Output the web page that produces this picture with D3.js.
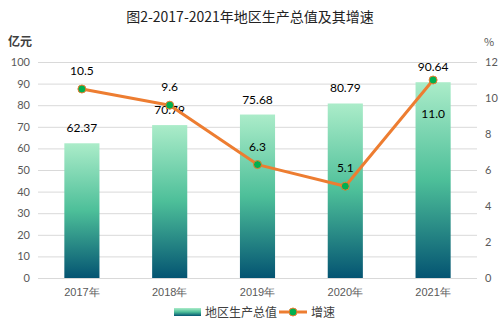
<!DOCTYPE html>
<html><head><meta charset="utf-8">
<script src="https://cdn.jsdelivr.net/npm/d3@7"></script>
<style>body{margin:0;background:#fff;}svg{display:block;font-family:"Noto Sans CJK SC","Microsoft YaHei",sans-serif;}</style>
</head><body><svg id="c" width="500" height="326"></svg>
<script>
const categories = ["2017年","2018年","2019年","2020年","2021年"];
const gdpValues = [62.37, 70.79, 75.68, 80.79, 90.64];
const growthValues = [10.5, 9.6, 6.3, 5.1, 11.0];
const growthLabels = ["10.5","9.6","6.3","5.1","11.0"];
const leftTicks = [0,10,20,30,40,50,60,70,80,90,100];
const rightTicks = [0,2,4,6,8,10,12];

const svg = d3.select("#c");
const m = {l:38, r:477, t:62, b:278};
const x = d3.scaleBand().domain(categories).range([m.l, m.r]).paddingInner(0.6).paddingOuter(0.3);
const xc = d3.scaleBand().domain(categories).range([m.l, m.r]);
const yL = d3.scaleLinear().domain([0,100]).range([m.b, m.t]);
const yR = d3.scaleLinear().domain([0,12]).range([m.b, m.t]);

const defs = svg.append("defs");
const g = defs.append("linearGradient").attr("id","bg").attr("x1",0).attr("y1",0).attr("x2",0).attr("y2",1);
g.append("stop").attr("offset","0%").attr("stop-color","#abecc9");
g.append("stop").attr("offset","50%").attr("stop-color","#4dbf99");
g.append("stop").attr("offset","100%").attr("stop-color","#045472");
const gl = defs.append("linearGradient").attr("id","lg").attr("x1",0).attr("y1",0).attr("x2",0).attr("y2",1);
gl.append("stop").attr("offset","0%").attr("stop-color","#abecc9");
gl.append("stop").attr("offset","50%").attr("stop-color","#4dbf99");
gl.append("stop").attr("offset","100%").attr("stop-color","#045472");

svg.append("text").attr("x",250).attr("y",22).attr("text-anchor","middle")
  .attr("font-size",14).attr("fill","#222").text("图2-2017-2021年地区生产总值及其增速");

// gridlines
svg.append("g").selectAll("line").data(leftTicks).join("line")
  .attr("x1",m.l).attr("x2",m.r).attr("y1",d=>yL(d)+0.5).attr("y2",d=>yL(d)+0.5)
  .attr("stroke","#d9d9d9").attr("stroke-width",1);

// left axis
const la = svg.append("g").attr("transform",`translate(${m.l},0)`)
  .call(d3.axisLeft(yL).tickValues(leftTicks).tickSize(0).tickPadding(8));
la.select(".domain").remove();
la.selectAll("text").attr("font-size",11).attr("fill","#595959").attr("font-family","Lato, 'Open Sans', sans-serif");
// right axis
const ra = svg.append("g").attr("transform",`translate(${m.r},0)`)
  .call(d3.axisRight(yR).tickValues(rightTicks).tickSize(0).tickPadding(8));
ra.select(".domain").remove();
ra.selectAll("text").attr("font-size",11).attr("fill","#595959").attr("font-family","Lato, 'Open Sans', sans-serif");
// bottom axis
const ba = svg.append("g").attr("transform",`translate(0,${m.b})`)
  .call(d3.axisBottom(xc).tickSize(0).tickPadding(10));
ba.select(".domain").remove();
ba.selectAll("text").attr("font-size",11).attr("fill","#595959");

svg.append("text").attr("x",8).attr("y",46).attr("font-size",12).attr("font-weight","bold").attr("fill","#404040").text("亿元");
svg.append("text").attr("x",484).attr("y",46).attr("font-size",11).attr("fill","#595959").text("%");

// bars
svg.append("g").selectAll("rect").data(gdpValues).join("rect")
  .attr("x",(d,i)=>x(categories[i])).attr("width",x.bandwidth())
  .attr("y",d=>yL(d)).attr("height",d=>yL(0)-yL(d)).attr("fill","url(#bg)");
svg.append("g").selectAll("text").data(gdpValues).join("text")
  .attr("x",(d,i)=>xc(categories[i])+xc.bandwidth()/2).attr("y",d=>yL(d)-11)
  .attr("text-anchor","middle").attr("font-size",12).attr("fill","#000")
  .attr("font-family","Lato, 'Open Sans', sans-serif").text(d=>d.toFixed(2));
svg.select("rect").attr("dummy",null);

// line
const line = d3.line().x((d,i)=>xc(categories[i])+xc.bandwidth()/2).y(d=>yR(d));
svg.append("path").datum(growthValues).attr("d",line).attr("fill","none")
  .attr("stroke","#ed7d31").attr("stroke-width",3).attr("stroke-linejoin","round");
svg.append("g").selectAll("circle").data(growthValues).join("circle")
  .attr("cx",(d,i)=>xc(categories[i])+xc.bandwidth()/2).attr("cy",d=>yR(d)).attr("r",4)
  .attr("fill","#00b050").attr("stroke","#ed7d31").attr("stroke-width",1);
svg.append("g").selectAll("text").data(growthValues).join("text")
  .attr("x",(d,i)=>xc(categories[i])+xc.bandwidth()/2)
  .attr("y",(d,i)=> i===4 ? yR(d)+38 : yR(d)-14)
  .attr("text-anchor","middle").attr("font-size",12).attr("fill","#000")
  .attr("font-family","Lato, 'Open Sans', sans-serif").text((d,i)=>growthLabels[i]);

// legend
const lg = svg.append("g");
lg.append("rect").attr("x",174).attr("y",308).attr("width",27).attr("height",8).attr("fill","url(#lg)");
lg.append("text").attr("x",205).attr("y",317).attr("font-size",12).attr("fill","#404040").text("地区生产总值");
lg.append("line").attr("x1",279).attr("x2",307).attr("y1",312).attr("y2",312).attr("stroke","#ed7d31").attr("stroke-width",3);
lg.append("circle").attr("cx",293).attr("cy",312).attr("r",4).attr("fill","#00b050").attr("stroke","#ed7d31");
lg.append("text").attr("x",311).attr("y",317).attr("font-size",12).attr("fill","#404040").text("增速");
</script></body></html>
